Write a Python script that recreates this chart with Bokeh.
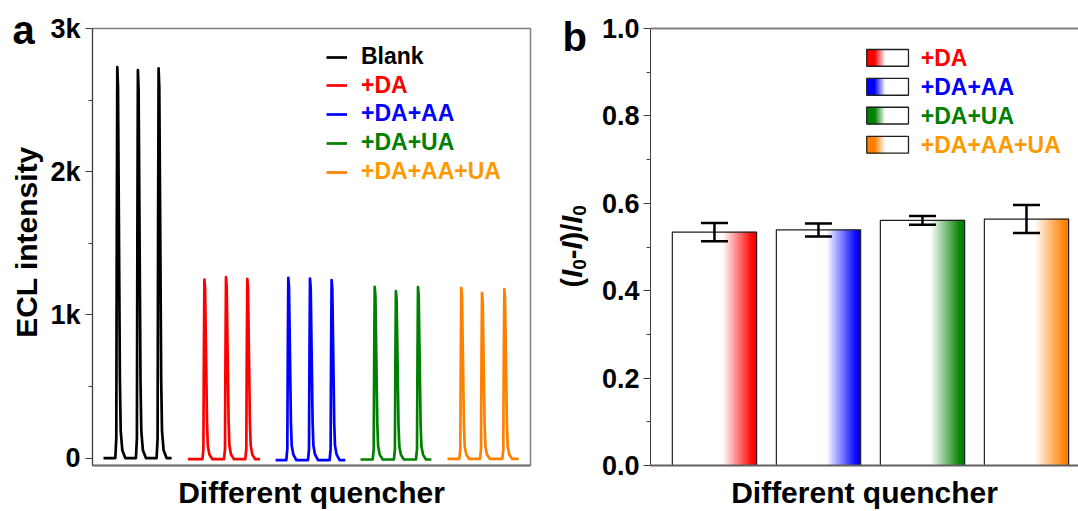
from math import pi

from bokeh.core.properties import value
from bokeh.embed import file_html
from bokeh.layouts import row
from bokeh.models import (ColumnDataSource, CustomJSTickFormatter, FixedTicker,
                          Legend, LegendItem, LinearAxis, PrintfTickFormatter,
                          Range1d, TeeHead, Whisker)
from bokeh.plotting import figure
from bokeh.resources import INLINE

FONT = "Liberation Sans"
HEIGHT = 511

# ---------------------------------------------------------------------------
# Panel a: ECL transients, three light pulses per sample (time in s, a.u.)
# ---------------------------------------------------------------------------
series_names = ["Blank", "+DA", "+DA+AA", "+DA+UA", "+DA+AA+UA"]
line_colors = ["#000000", "#FF0000", "#0000FF", "#008000", "#FF8000"]
text_colors = ["#000000", "#FF0000", "#0000FF", "#008000", "#FF9900"]

blank_t = [11.0,
           22.8, 23.8, 24.3, 24.8, 25.5, 26.4, 27.4, 28.2, 29.8, 32.8,
           43.4, 44.4, 44.9, 45.4, 46.1, 47.0, 48.0, 48.8, 50.4, 53.4,
           64.1, 65.1, 65.6, 66.1, 66.8, 67.7, 68.7, 69.5, 71.1, 74.1,
           79.1]
blank_i = [0,
           0, 137, 1639, 2731, 2594, 1639, 546, 191, 55, 0,
           0, 136, 1626, 2710, 2575, 1626, 542, 190, 54, 0,
           0, 136, 1633, 2722, 2586, 1633, 544, 191, 54, 0,
           0]

da_t = [95.4,
        109.9, 110.9, 111.4, 111.9, 112.6, 113.5, 114.5, 115.3, 116.9, 119.9,
        131.5, 132.5, 133.0, 133.5, 134.2, 135.1, 136.1, 136.9, 138.5, 141.5,
        152.8, 153.8, 154.3, 154.8, 155.5, 156.4, 157.4, 158.2, 159.8, 162.8,
        167.6]
da_i = [-8,
        -8, 62, 748, 1247, 1185, 748, 249, 87, 25, -8,
        -8, 63, 758, 1264, 1201, 758, 253, 88, 25, -8,
        -8, 63, 751, 1252, 1189, 751, 250, 88, 25, -8,
        -8]

da_aa_t = [183.1,
           193.8, 194.8, 195.3, 195.8, 196.5, 197.4, 198.4, 199.2, 200.8, 203.8,
           215.5, 216.5, 217.0, 217.5, 218.2, 219.1, 220.1, 220.9, 222.5, 225.5,
           237.1, 238.1, 238.6, 239.1, 239.8, 240.7, 241.7, 242.5, 244.1, 247.1,
           252.8]
da_aa_i = [-15,
           -15, 63, 755, 1259, 1196, 755, 252, 88, 25, -15,
           -15, 63, 752, 1254, 1191, 752, 251, 88, 25, -15,
           -15, 62, 746, 1243, 1181, 746, 249, 87, 25, -15,
           -15]

da_ua_t = [268.0,
           280.2, 281.2, 281.7, 282.2, 282.9, 283.8, 284.8, 285.6, 287.2, 290.2,
           301.4, 302.4, 302.9, 303.4, 304.1, 305.0, 306.0, 306.8, 308.4, 311.4,
           323.5, 324.5, 325.0, 325.5, 326.2, 327.1, 328.1, 328.9, 330.5, 333.5,
           338.9]
da_ua_i = [-10,
           -10, 60, 718, 1196, 1136, 718, 239, 84, 24, -10,
           -10, 58, 700, 1166, 1108, 700, 233, 82, 23, -10,
           -10, 60, 716, 1194, 1134, 716, 239, 84, 24, -10,
           -10]

da_aa_ua_t = [355.0,
              366.8, 367.8, 368.3, 368.8, 369.5, 370.4, 371.4, 372.2, 373.8, 376.8,
              387.5, 388.5, 389.0, 389.5, 390.2, 391.1, 392.1, 392.9, 394.5, 397.5,
              409.8, 410.8, 411.3, 411.8, 412.5, 413.4, 414.4, 415.2, 416.8, 419.8,
              426.2]
da_aa_ua_i = [-6,
              -6, 59, 713, 1189, 1130, 713, 238, 83, 24, -6,
              -6, 58, 692, 1154, 1096, 692, 231, 81, 23, -6,
              -6, 59, 708, 1180, 1121, 708, 236, 83, 24, -6,
              -6]

traces_t = [blank_t, da_t, da_aa_t, da_ua_t, da_aa_ua_t]
traces_i = [blank_i, da_i, da_aa_i, da_ua_i, da_aa_ua_i]

ecl_ticks = [0, 1000, 2000, 3000]
ecl_minor = [500, 1500, 2500]

# ---------------------------------------------------------------------------
# Panel b: quenching efficiency (I0 - I) / I0
# ---------------------------------------------------------------------------
quenchers = ["+DA", "+DA+AA", "+DA+UA", "+DA+AA+UA"]
ratio = [0.534, 0.539, 0.561, 0.564]
ratio_err = [0.021, 0.015, 0.010, 0.032]
bar_colors = ["#FF0000", "#0000FF", "#008000", "#FF8000"]
legend_text_colors = ["#FF0000", "#0000FF", "#008000", "#FF9900"]
ratio_ticks = [0.0, 0.2, 0.4, 0.6, 0.8, 1.0]
ratio_minor = [0.1, 0.3, 0.5, 0.7, 0.9]


def mix(color, t):
    """Blend white (t=0) into color (t=1)."""
    r, g, b = (int(color[k:k + 2], 16) for k in (1, 3, 5))
    return "#%02x%02x%02x" % (round(255 + (r - 255) * t),
                              round(255 + (g - 255) * t),
                              round(255 + (b - 255) * t))


def style_axis(ax, tick_size="27px"):
    ax.major_label_text_font = FONT
    ax.major_label_text_font_style = "bold"
    ax.major_label_text_font_size = tick_size
    ax.major_label_text_color = "#000000"
    ax.axis_label_text_font = FONT
    ax.axis_label_text_font_style = "bold"
    ax.axis_label_text_font_size = "30px"
    ax.axis_label_text_color = "#000000"
    ax.major_tick_in = 0
    ax.major_tick_out = 7
    ax.minor_tick_in = 0
    ax.minor_tick_out = 4
    ax.major_tick_line_color = "#404040"
    ax.minor_tick_line_color = "#404040"


def margin_strip(width):
    """Narrow blank figure (1 unit = 1 px, y up) that carries the panel letter
    and the rotated y title to the left of a panel.  Its frame spans the whole
    canvas, so it must not be aligned with the neighbouring plot frames."""
    s = figure(width=width, height=HEIGHT, x_range=Range1d(0, width),
               y_range=Range1d(0, HEIGHT), output_backend="svg", toolbar_location=None,
               x_axis_type=None, y_axis_type=None,
               min_border_left=0, min_border_right=0, min_border_top=0, min_border_bottom=0)
    s.frame_align = False
    s.grid.visible = False
    s.outline_line_color = None
    return s


MID_TO_BASE = 0.3465  # distance (in em) from the text-box middle to the baseline


def strip_text(s, txt, base_x, base_y_from_top, size, style="bold", angle=0.0, align="left"):
    """Place text by its baseline; rotated text (pi/2) has its baseline vertical."""
    shift = MID_TO_BASE * size
    if angle:
        x, y = base_x - shift, HEIGHT - base_y_from_top
    else:
        x, y = base_x, HEIGHT - (base_y_from_top - shift)
    s.text(x=[x], y=[y], text=[txt], angle=angle,
           text_font=value(FONT), text_font_style=style, text_font_size=f"{size}px",
           text_color="#000000", text_align=align, text_baseline="middle")


# ------------------------------- panel a -----------------------------------
la = margin_strip(45)
strip_text(la, "a", 12, 43, 40)
strip_text(la, "ECL intensity", 36, 241.5, 30, angle=pi / 2, align="center")

pa = figure(width=495, height=HEIGHT, x_range=Range1d(0, 438), y_range=Range1d(-52, 3000),
            output_backend="svg", toolbar_location=None,
            min_border_left=47, min_border_right=10, min_border_top=28, min_border_bottom=45)
pa.grid.visible = False
pa.outline_line_color = "#808080"
pa.outline_line_width = 1.5

style_axis(pa.yaxis[0])
pa.yaxis.ticker = FixedTicker(ticks=ecl_ticks, minor_ticks=ecl_minor)
pa.yaxis.formatter = CustomJSTickFormatter(code="return tick == 0 ? '0' : (tick / 1000) + 'k';")
pa.yaxis.major_label_standoff = 5
pa.yaxis.axis_line_color = "#404040"
pa.yaxis.axis_line_width = 1

style_axis(pa.xaxis[0])
pa.xaxis.ticker = FixedTicker(ticks=[])
pa.xaxis.axis_label = "Different quencher"
pa.xaxis.axis_label_standoff = 10
pa.xaxis.axis_line_color = "#707070"
pa.xaxis.axis_line_width = 2

renderers = []
for t, i, c in zip(traces_t, traces_i, line_colors):
    renderers.append(pa.line(t, i, line_color=c, line_width=2.7, line_join="round"))

# one legend per entry so every label keeps its own colour
row_centres = [58, 86.5, 115, 144, 173]   # px from the top of the canvas
frame_bottom_a = 465.7
for name, r, tc, yc in zip(series_names, renderers, text_colors, row_centres):
    leg = Legend(items=[LegendItem(label=name, renderers=[r])],
                 location=(234, frame_bottom_a - yc - 13),
                 label_text_font=FONT, label_text_font_style="bold",
                 label_text_font_size="23px", label_text_color=tc,
                 glyph_width=21, glyph_height=26, label_height=26, label_standoff=14,
                 padding=0, margin=0, spacing=0,
                 border_line_alpha=0, background_fill_alpha=0)
    pa.add_layout(leg)

# ------------------------------- panel b -----------------------------------
lb = margin_strip(56)
strip_text(lb, "b", 22, 50, 40)

# rotated y title (I0 - I) / I0 with italic I and subscript 0
pieces = [("(", "bold", 29, 0.333, False), ("I", "bold italic", 29, 0.278, False),
          ("0", "bold", 19, 0.556, True), ("-", "bold", 29, 0.333, False),
          ("I", "bold italic", 29, 0.278, False), (")/", "bold", 29, 0.611, False),
          ("I", "bold italic", 29, 0.278, False), ("0", "bold", 19, 0.556, True)]
pos = 287.0  # px from the top where the title starts (it reads bottom to top)
for txt, style, size, adv, sub in pieces:
    strip_text(lb, txt, 46 if sub else 42, pos, size, style, angle=pi / 2)
    pos -= adv * size

pb = figure(width=482, height=HEIGHT, x_range=Range1d(0.385, 4.5), y_range=Range1d(0, 1),
            output_backend="svg", toolbar_location=None,
            min_border_left=54, min_border_right=0, min_border_top=28, min_border_bottom=45)
pb.grid.visible = False
pb.outline_line_color = None

style_axis(pb.yaxis[0])
pb.yaxis.ticker = FixedTicker(ticks=ratio_ticks, minor_ticks=ratio_minor)
pb.yaxis.formatter = PrintfTickFormatter(format="%.1f")
pb.yaxis.major_label_standoff = 4
pb.yaxis.axis_line_color = "#404040"
pb.yaxis.axis_line_width = 1

style_axis(pb.xaxis[0])
pb.xaxis.ticker = FixedTicker(ticks=[])
pb.xaxis.axis_label = "Different quencher"
pb.xaxis.axis_label_standoff = 10
pb.xaxis.axis_line_color = "#606060"
pb.xaxis.axis_line_width = 2

top_axis = LinearAxis(ticker=FixedTicker(ticks=[]), axis_line_color="#808080",
                      axis_line_width=2, major_label_text_font_size="0px")
pb.add_layout(top_axis, "above")

# gradient bars: white body, colour ramp towards the right edge
BAR_W = 0.81
RAMP_START, RAMP_END, N_STEPS = 0.60, 0.95, 36
qs = dict(left=[], right=[], top=[], bottom=[], color=[])


def add_slice(store, x0, x1, y0, y1, color):
    store["left"].append(x0)
    store["right"].append(x1)
    store["bottom"].append(y0)
    store["top"].append(y1)
    store["color"].append(color)


for k, (v, c) in enumerate(zip(ratio, bar_colors)):
    xl = (k + 1) - BAR_W / 2
    add_slice(qs, xl, xl + RAMP_START * BAR_W, 0, v, "#FFFFFF")
    step = (RAMP_END - RAMP_START) / N_STEPS
    for s in range(N_STEPS):
        f0 = RAMP_START + s * step
        add_slice(qs, xl + f0 * BAR_W, xl + (f0 + step) * BAR_W, 0, v,
                  mix(c, (s + 0.5) / N_STEPS))
    add_slice(qs, xl + RAMP_END * BAR_W, xl + BAR_W, 0, v, c)

pb.quad(left="left", right="right", top="top", bottom="bottom",
        fill_color="color", line_color="color", line_width=0.6,
        source=ColumnDataSource(qs))

xs = [k + 1 for k in range(len(ratio))]
pb.vbar(x=xs, top=ratio, width=BAR_W, fill_color=None, line_color="#202020", line_width=1.2)

err_src = ColumnDataSource(dict(x=xs,
                                upper=[v + e for v, e in zip(ratio, ratio_err)],
                                lower=[v - e for v, e in zip(ratio, ratio_err)]))
wh = Whisker(source=err_src, base="x", upper="upper", lower="lower",
             line_color="#000000", line_width=2.5, level="overlay",
             upper_head=TeeHead(size=27, line_width=2.5, line_color="#000000"),
             lower_head=TeeHead(size=27, line_width=2.5, line_color="#000000"))
pb.add_layout(wh)

# legend: swatches with the colour fading out to the right, coloured labels
x_px0, px_per_x = 714.0, 104.0
frame_bottom_b, px_per_y = 465.7, 437.4


def bx(px):
    return 1 + (px - x_px0) / px_per_x


def by(py):
    return (frame_bottom_b - py) / px_per_y


sw = dict(left=[], right=[], top=[], bottom=[], color=[])
sw_box = dict(left=[], right=[], top=[], bottom=[])
leg_rows = [57.7, 86.7, 115.5, 144.7]
SW_L, SW_R, SW_H = bx(866.3), bx(908.0), 8.4
SOLID, FADE, M = 0.2, 0.45, 20
for c, yc in zip(bar_colors, leg_rows):
    y0, y1 = by(yc + SW_H), by(yc - SW_H)
    wdt = SW_R - SW_L
    add_slice(sw, SW_L, SW_L + SOLID * wdt, y0, y1, c)
    st = (FADE - SOLID) / M
    for s in range(M):
        f0 = SOLID + s * st
        add_slice(sw, SW_L + f0 * wdt, SW_L + (f0 + st) * wdt, y0, y1, mix(c, 1 - (s + 0.5) / M))
    add_slice(sw, SW_L + FADE * wdt, SW_R, y0, y1, "#FFFFFF")
    sw_box["left"].append(SW_L)
    sw_box["right"].append(SW_R)
    sw_box["bottom"].append(y0)
    sw_box["top"].append(y1)

pb.quad(left="left", right="right", top="top", bottom="bottom",
        fill_color="color", line_color="color", line_width=0.6, source=ColumnDataSource(sw))
pb.quad(left="left", right="right", top="top", bottom="bottom",
        fill_color=None, line_color="#202020", line_width=1.3, source=ColumnDataSource(sw_box))
pb.text(x=[bx(920.3)] * len(quenchers), y=[by(yc) for yc in leg_rows], text=quenchers,
        text_color=legend_text_colors, text_font=value(FONT), text_font_style="bold",
        text_font_size="23px", text_baseline="middle", text_align="left")

layout = row(la, pa, lb, pb, spacing=0)
with open("out.html", "w") as fh:
    fh.write(file_html(layout, INLINE))
